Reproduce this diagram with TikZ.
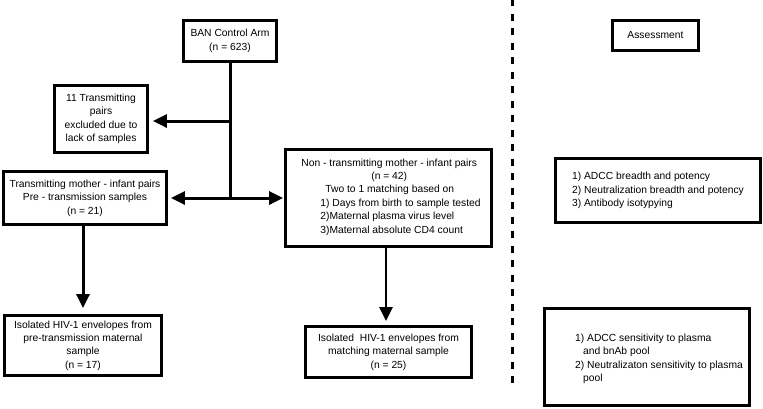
\documentclass[tikz,border=0pt]{standalone}
\usepackage{fontspec}
\setmainfont{Liberation Sans}
\usetikzlibrary{arrows.meta}
\begin{document}
\begin{tikzpicture}[x=1pt,y=-1pt,
  box/.style={draw,line width=2.8pt,inner sep=0pt,align=center,font=\fontsize{10.3}{13.4}\selectfont},
  txt/.style={inner sep=0pt,align=left,font=\fontsize{10.3}{13.4}\selectfont},
  conn/.style={line width=3pt},
  arr/.style={line width=3pt,-{Triangle[length=14pt,width=13pt]}}]
\useasboundingbox (0,0) rectangle (763,408);
% left flow
\node[box,minimum width=93pt,minimum height=41pt] (ban) at (230,41) {BAN Control Arm\\(n = 623)};
\node[box,minimum width=93pt,minimum height=67pt] (excl) at (101,119) {11 Transmitting\\pairs\\excluded due to\\lack of samples};
\node[box,minimum width=163pt,minimum height=53pt] (trans) at (85,198) {Transmitting mother - infant pairs\\Pre - transmission samples\\(n = 21)};
\node[box,minimum width=157pt,minimum height=60pt] (isoL) at (83,345.5) {Isolated HIV-1 envelopes from\\pre-transmission maternal\\sample\\(n = 17)};
\node[box,minimum width=206pt,minimum height=97pt] (non) at (388.5,198) {};
\node[txt] (nontext) at (391,197) {Non - transmitting mother - infant pairs\\
\hspace*{70pt}(n = 42)\\
\hspace*{24pt}Two to 1 matching based on\\
\hspace*{19pt}1) Days from birth to sample tested\\
\hspace*{19pt}2)Maternal plasma virus level\\
\hspace*{19pt}3)Maternal absolute CD4 count};
\node[box,minimum width=166pt,minimum height=51pt] (isoR) at (388.5,352) {Isolated\ \ HIV-1 envelopes from\\matching maternal sample\\(n = 25)};
% connectors
\coordinate (j1) at (230,121);
\coordinate (j2) at (230,198);
\draw[conn] (ban.south) -- (j2);
\draw[arr,shorten >=4pt] (j1) -- (j1 -| excl.east);
\draw[arr,shorten >=3pt] (j2) -- (j2 -| trans.east);
\draw[arr,shorten >=1pt] (j2) -- (j2 -| non.west);
\draw[arr,shorten >=6pt] (isoL.north |- trans.south) -- (isoL.north);
\draw[arr,line width=2.5pt,shorten >=4pt] (non.south -| 386,0) -- (isoR.north -| 386,0);
% divider
\coordinate (dtop) at (512,-1);
\coordinate (dbot) at (512,385);
\draw[line width=3pt,dash pattern=on 7pt off 7.5pt] (dtop) -- (dbot);
% right column
\node[box,minimum width=86pt,minimum height=30pt] (assess) at (655.5,35.5) {Assessment};
\node[box,minimum width=205pt,minimum height=64pt,align=left] (r1) at (658,190.5) {1) ADCC breadth and potency\\2) Neutralization breadth and potency\\3) Antibody isotypying};
\node[box,minimum width=205pt,minimum height=97pt] (r2) at (647,357) {};
\node[txt] (r2text) at (659,359) {1) ADCC sensitivity to plasma\\
\hspace*{8pt}and bnAb pool\\
2) Neutralizaton sensitivity to plasma\\
\hspace*{8pt}pool};
\end{tikzpicture}
\end{document}
